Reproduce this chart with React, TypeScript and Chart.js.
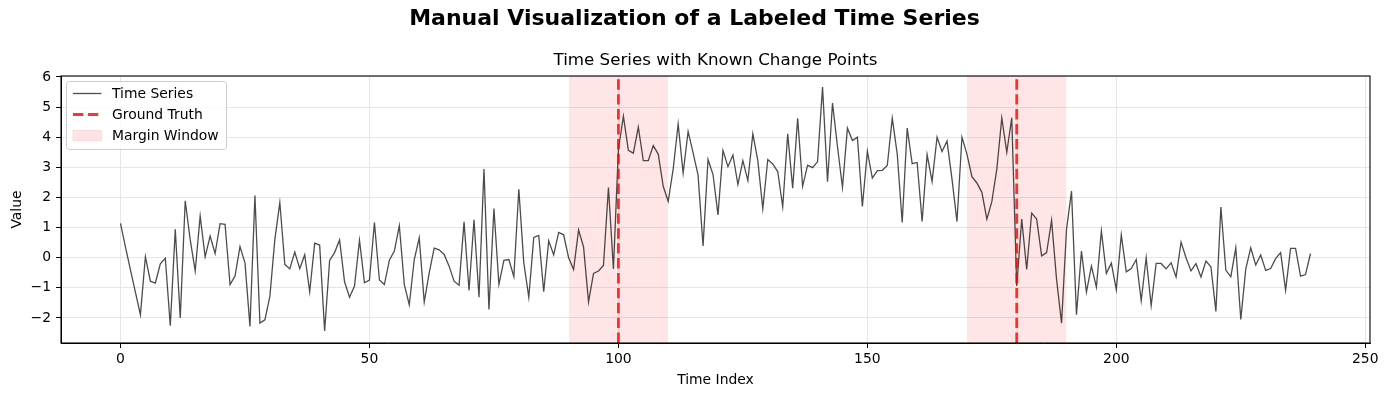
import React, { useEffect, useRef } from "react";
import { Chart, registerables } from "chart.js";

Chart.register(...registerables);

// ---- data ----
const seriesValues: number[] = [
  1.14, 0.35, -0.4, -1.15, -1.89, 0.03, -0.78, -0.84, -0.2, -0.02,
  -2.26, 0.94, -2.0, 1.89, 0.6, -0.44, 1.38, 0.03, 0.72, 0.14,
  1.13, 1.11, -0.89, -0.61, 0.37, -0.17, -2.28, 2.06, -2.17, -2.06,
  -1.28, 0.61, 1.83, -0.22, -0.37, 0.19, -0.36, 0.1, -1.13, 0.48,
  0.42, -2.43, -0.09, 0.17, 0.59, -0.8, -1.31, -0.94, 0.58, -0.83,
  -0.74, 1.17, -0.74, -0.89, -0.08, 0.22, 1.06, -0.89, -1.56, -0.06,
  0.66, -1.47, -0.5, 0.32, 0.26, 0.11, -0.28, -0.78, -0.91, 1.19,
  -1.09, 1.26, -1.31, 2.94, -1.72, 1.63, -0.89, -0.09, -0.06, -0.63,
  2.27, -0.17, -1.31, 0.67, 0.74, -1.13, 0.56, 0.09, 0.84, 0.76,
  0.0, -0.39, 0.92, 0.36, -1.47, -0.52, -0.44, -0.26, 2.33, -0.37,
  3.6, 4.7, 3.56, 3.47, 4.33, 3.22, 3.22, 3.72, 3.44, 2.37,
  1.87, 2.94, 4.44, 2.81, 4.19, 3.48, 2.74, 0.39, 3.26, 2.76,
  1.42, 3.56, 3.02, 3.41, 2.43, 3.22, 2.56, 4.11, 3.22, 1.63,
  3.26, 3.11, 2.86, 1.69, 4.11, 2.31, 4.63, 2.37, 3.07, 2.99,
  3.19, 5.66, 2.52, 5.13, 3.69, 2.33, 4.3, 3.89, 4.0, 1.7,
  3.53, 2.64, 2.89, 2.9, 3.06, 4.63, 3.44, 1.17, 4.3, 3.12,
  3.16, 1.2, 3.42, 2.53, 4.0, 3.52, 3.87, 2.61, 1.2, 4.0,
  3.44, 2.69, 2.48, 2.17, 1.28, 1.86, 2.94, 4.64, 3.5, 4.64,
  -0.94, 1.28, -0.39, 1.48, 1.28, 0.06, 0.17, 1.24, -0.72, -2.17,
  0.94, 2.21, -1.89, 0.22, -1.14, -0.28, -0.98, 0.89, -0.52, -0.18,
  -1.06, 0.76, -0.47, -0.36, -0.06, -1.43, 0.0, -1.59, -0.19, -0.19,
  -0.37, -0.17, -0.64, 0.52, 0.0, -0.44, -0.2, -0.64, -0.11, -0.3,
  -1.78, 1.68, -0.42, -0.63, 0.33, -2.05, -0.37, 0.33, -0.24, 0.09,
  -0.42, -0.36, -0.03, 0.17, -1.08, 0.31, 0.31, -0.61, -0.56, 0.14,
];
const changePoints: number[] = [100, 180];
const marginWindows: number[][] = [
  [90, 110],
  [170, 190],
];
const xTicks: number[] = [0, 50, 100, 150, 200, 250];
const yTicks: number[] = [-2, -1, 0, 1, 2, 3, 4, 5, 6];
const legendLabels: string[] = ["Time Series", "Ground Truth", "Margin Window"];
const figTitle = "Manual Visualization of a Labeled Time Series";
const axTitle = "Time Series with Known Change Points";
const xLabel = "Time Index";
const yLabel = "Value";
const X_MIN = -11.95;
const X_MAX = 250.95;
const Y_MIN = -2.83;
const Y_MAX = 6.03;

const FONT = "'DejaVu Sans', sans-serif";
const SERIES_COLOR = "rgba(0,0,0,0.7)";
const GT_COLOR = "rgba(255,0,0,0.8)";
const SPAN_COLOR = "rgba(255,0,0,0.1)";
const DASH = [10.4, 4.5];

const fmt = (v: number) => (v < 0 ? "\u2212" + Math.abs(v) : String(v));

export default function App() {
  const ref = useRef<HTMLCanvasElement>(null);

  useEffect(() => {
    const canvas = ref.current;
    if (!canvas) return;

    const datasets: any[] = [];
    datasets.push({
      label: legendLabels[0],
      data: seriesValues.map((v, i) => ({ x: i, y: v })),
      borderColor: SERIES_COLOR,
      borderWidth: 1.3,
      pointRadius: 0,
      tension: 0,
      fill: false,
      order: 2,
    });
    changePoints.forEach((cp) =>
      datasets.push({
        label: legendLabels[1],
        data: [
          { x: cp, y: Y_MIN },
          { x: cp, y: Y_MAX },
        ],
        borderColor: GT_COLOR,
        borderWidth: 2.8,
        borderDash: DASH,
        pointRadius: 0,
        fill: false,
        order: 1,
      })
    );
    marginWindows.forEach(([a, b]) =>
      datasets.push({
        label: legendLabels[2],
        data: [
          { x: a, y: Y_MAX },
          { x: b, y: Y_MAX },
        ],
        borderColor: "rgba(0,0,0,0)",
        borderWidth: 0,
        backgroundColor: SPAN_COLOR,
        fill: "start",
        pointRadius: 0,
        order: 3,
      })
    );

    const deco = {
      id: "deco",
      afterDraw(chart: any) {
        const { ctx, chartArea: ca } = chart;
        ctx.save();
        // frame
        ctx.strokeStyle = "#000";
        ctx.lineWidth = 1.1;
        ctx.strokeRect(ca.left, ca.top, ca.right - ca.left, ca.bottom - ca.top);

        // titles
        ctx.fillStyle = "#000";
        ctx.textAlign = "center";
        ctx.textBaseline = "middle";
        ctx.font = `bold 22px ${FONT}`;
        ctx.fillText(figTitle, chart.width / 2, 19.5);
        ctx.font = `16.7px ${FONT}`;
        ctx.fillText(axTitle, (ca.left + ca.right) / 2, 61);

        // legend
        const bx = ca.left + 5.5;
        const by = ca.top + 5.5;
        const bw = 160;
        const bh = 68;
        ctx.beginPath();
        ctx.roundRect(bx, by, bw, bh, 3);
        ctx.fillStyle = "rgba(255,255,255,0.8)";
        ctx.fill();
        ctx.strokeStyle = "#cccccc";
        ctx.lineWidth = 1;
        ctx.stroke();

        const rows = [by + 12, by + 33, by + 54];
        const sx0 = bx + 6.5;
        const sx1 = bx + 35;
        // series swatch
        ctx.beginPath();
        ctx.strokeStyle = SERIES_COLOR;
        ctx.lineWidth = 1.3;
        ctx.moveTo(sx0, rows[0]);
        ctx.lineTo(sx1, rows[0]);
        ctx.stroke();
        // ground truth swatch
        ctx.beginPath();
        ctx.setLineDash(DASH);
        ctx.strokeStyle = GT_COLOR;
        ctx.lineWidth = 2.8;
        ctx.moveTo(sx0, rows[1]);
        ctx.lineTo(sx1, rows[1]);
        ctx.stroke();
        ctx.setLineDash([]);
        // span swatch
        ctx.fillStyle = SPAN_COLOR;
        ctx.fillRect(sx0, rows[2] - 5, sx1 - sx0, 10);
        ctx.strokeStyle = "rgba(255,0,0,0.1)";
        ctx.lineWidth = 1;
        ctx.strokeRect(sx0, rows[2] - 5, sx1 - sx0, 10);

        ctx.fillStyle = "#000";
        ctx.textAlign = "left";
        ctx.textBaseline = "middle";
        ctx.font = `13.9px ${FONT}`;
        legendLabels.forEach((t, i) => ctx.fillText(t, bx + 45.5, rows[i] + 1));
        ctx.restore();
      },
    };

    const gridCfg = {
      color: "#e6e6e6",
      lineWidth: 1,
      tickColor: "#000",
      tickLength: 5,
      tickWidth: 1,
      drawTicks: true,
    };

    const chart = new Chart(canvas, {
      type: "line",
      data: { datasets },
      plugins: [deco],
      options: {
        animation: false,
        responsive: false,
        maintainAspectRatio: false,
        devicePixelRatio: 1,
        layout: { padding: { left: 0, right: 19, top: 76, bottom: 0 } },
        plugins: {
          legend: { display: false },
          tooltip: { enabled: false },
          title: { display: false },
        },
        scales: {
          x: {
            type: "linear",
            min: X_MIN,
            max: X_MAX,
            afterBuildTicks: (s: any) => {
              s.ticks = xTicks.map((v) => ({ value: v }));
            },
            afterFit: (s: any) => {
              s.height = 54;
            },
            grid: gridCfg,
            border: { display: true, color: "#000", width: 1 },
            ticks: {
              color: "#000",
              font: { family: FONT, size: 13.9 },
              padding: 3,
              maxRotation: 0,
              autoSkip: false,
              callback: (v: any) => fmt(Number(v)),
            },
            title: {
              display: true,
              text: xLabel,
              color: "#000",
              font: { family: FONT, size: 13.9 },
              padding: { top: 0, bottom: 8 },
            },
          },
          y: {
            type: "linear",
            min: Y_MIN,
            max: Y_MAX,
            afterBuildTicks: (s: any) => {
              s.ticks = yTicks.map((v) => ({ value: v }));
            },
            afterFit: (s: any) => {
              s.width = 61;
            },
            grid: gridCfg,
            border: { display: true, color: "#000", width: 1 },
            ticks: {
              color: "#000",
              font: { family: FONT, size: 13.9 },
              padding: 5,
              autoSkip: false,
              callback: (v: any) => fmt(Number(v)),
            },
            title: {
              display: true,
              text: yLabel,
              color: "#000",
              font: { family: FONT, size: 13.9 },
              padding: { top: 8.6, bottom: 0 },
            },
          },
        },
      } as any,
    });

    return () => chart.destroy();
  }, []);

  return (
    <div
      style={{
        position: "absolute",
        left: 0,
        top: 0,
        width: 1389,
        height: 397,
        background: "#fff",
      }}
    >
      <canvas ref={ref} width={1389} height={397} style={{ display: "block" }} />
    </div>
  );
}
